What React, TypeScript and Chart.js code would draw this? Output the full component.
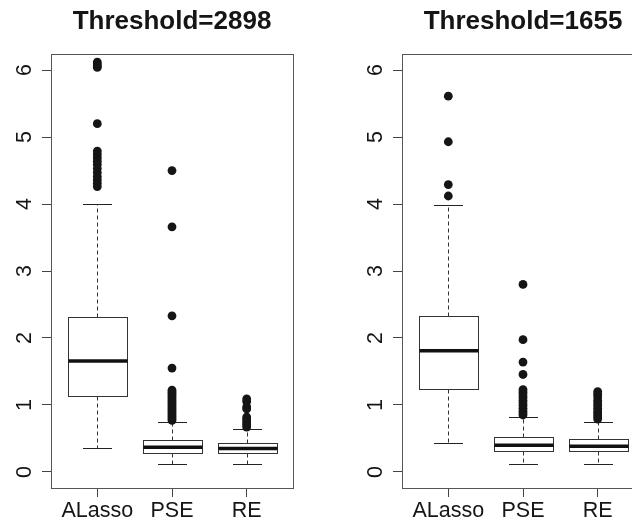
import React, { useEffect, useRef } from 'react';
import { Chart, registerables } from 'chart.js';

Chart.register(...registerables);

// ---------- data ----------
const categories = ['ALasso', 'PSE', 'RE'];
const yTicks = [0, 1, 2, 3, 4, 5, 6];

// Panel 1: Threshold=2898
const leftTitle = 'Threshold=2898';
const leftLow = [0.355, 0.12, 0.12];
const leftQ1 = [1.14, 0.285, 0.285];
const leftMedian = [1.655, 0.37, 0.35];
const leftQ3 = [2.31, 0.47, 0.425];
const leftHigh = [4.0, 0.745, 0.635];
const leftOutALasso = [6.12, 6.09, 6.06, 6.04, 5.2, 4.79, 4.74, 4.69, 4.64, 4.59, 4.53, 4.47, 4.41, 4.36, 4.31, 4.26];
const leftOutPSE = [4.5, 3.66, 2.33, 1.55, 1.22, 1.19, 1.16, 1.13, 1.1, 1.07, 1.04, 1.01, 0.98, 0.95, 0.92, 0.89, 0.86, 0.83, 0.8, 0.77];
const leftOutRE = [1.09, 1.05, 0.97, 0.94, 0.82, 0.79, 0.76, 0.73, 0.7, 0.67];

// Panel 2: Threshold=1655
const rightTitle = 'Threshold=1655';
const rightLow = [0.43, 0.125, 0.125];
const rightQ1 = [1.235, 0.31, 0.31];
const rightMedian = [1.81, 0.4, 0.385];
const rightQ3 = [2.33, 0.52, 0.485];
const rightHigh = [3.98, 0.82, 0.75];
const rightOutALasso = [5.61, 4.93, 4.29, 4.12];
const rightOutPSE = [2.8, 1.975, 1.64, 1.455, 1.23, 1.19, 1.15, 1.11, 1.07, 1.03, 0.99, 0.95, 0.91, 0.88, 0.85];
const rightOutRE = [1.2, 1.16, 1.12, 1.07, 1.03, 0.99, 0.95, 0.91, 0.88, 0.85, 0.82, 0.79];

const FONT = '"Liberation Sans", Arial, Helvetica, sans-serif';

type Stats = { low: number[]; q1: number[]; med: number[]; q3: number[]; high: number[] };

const boxPlugin = {
  id: 'rbox',
  beforeDatasetsDraw(chart: any, _args: any, opts: any) {
    const { ctx, scales } = chart;
    const x = scales.x;
    const y = scales.y;
    const s: Stats = opts.stats;
    if (!s) return;
    const py = (v: number) => Math.round(y.getPixelForValue(v)) + 0.5;
    ctx.save();
    for (let i = 0; i < s.q1.length; i++) {
      const c = Math.round(x.getPixelForValue(i + 1)) + 0.5;
      const hw = x.getPixelForValue(i + 1.4) - x.getPixelForValue(i + 1);
      const sw = x.getPixelForValue(i + 1.2) - x.getPixelForValue(i + 1);
      // whiskers (dashed)
      ctx.strokeStyle = '#333';
      ctx.lineWidth = 1;
      ctx.setLineDash([4, 3]);
      ctx.beginPath();
      ctx.moveTo(c, py(s.q3[i]));
      ctx.lineTo(c, py(s.high[i]));
      ctx.moveTo(c, py(s.q1[i]));
      ctx.lineTo(c, py(s.low[i]));
      ctx.stroke();
      ctx.setLineDash([]);
      // staples
      ctx.strokeStyle = '#222';
      ctx.beginPath();
      ctx.moveTo(Math.round(c - sw), py(s.high[i]));
      ctx.lineTo(Math.round(c + sw), py(s.high[i]));
      ctx.moveTo(Math.round(c - sw), py(s.low[i]));
      ctx.lineTo(Math.round(c + sw), py(s.low[i]));
      ctx.stroke();
      // box
      const l = Math.round(c - hw) + 0.5;
      const r = Math.round(c + hw) + 0.5;
      const t = py(s.q3[i]);
      const b = py(s.q1[i]);
      ctx.fillStyle = '#fff';
      ctx.fillRect(l, t, r - l, b - t);
      ctx.strokeStyle = '#333';
      ctx.strokeRect(l, t, r - l, b - t);
      // median
      ctx.strokeStyle = '#111';
      ctx.lineWidth = 3.5;
      ctx.beginPath();
      const m = y.getPixelForValue(s.med[i]);
      ctx.moveTo(l, m);
      ctx.lineTo(r, m);
      ctx.stroke();
      ctx.lineWidth = 1;
    }
    ctx.restore();
  },
};

const framePlugin = {
  id: 'rframe',
  afterDraw(chart: any) {
    const { ctx, chartArea } = chart;
    ctx.save();
    ctx.strokeStyle = '#555';
    ctx.lineWidth = 1;
    const l = Math.round(chartArea.left) + 0.5;
    const t = Math.round(chartArea.top) + 0.5;
    const r = Math.round(chartArea.right) + 0.5;
    const b = Math.round(chartArea.bottom) + 0.5;
    ctx.strokeRect(l, t, r - l, b - t);
    ctx.restore();
  },
};

function Panel(props: {
  left: number;
  title: string;
  stats: Stats;
  outliers: number[][];
}) {
  const ref = useRef<HTMLCanvasElement | null>(null);
  useEffect(() => {
    if (!ref.current) return;
    const points: { x: number; y: number }[] = [];
    props.outliers.forEach((arr, i) => arr.forEach((v) => points.push({ x: i + 1, y: v })));
    const chart = new Chart(ref.current, {
      type: 'scatter',
      data: {
        datasets: [
          {
            data: points,
            pointRadius: 4.4,
            pointBackgroundColor: '#151515',
            pointBorderWidth: 0,
            showLine: false,
          },
        ],
      },
      options: {
        responsive: false,
        animation: false,
        devicePixelRatio: 1,
        layout: { padding: { left: 0, right: 58, top: 0, bottom: 0 } },
        plugins: {
          legend: { display: false },
          tooltip: { enabled: false },
          title: {
            display: true,
            text: props.title,
            fullSize: false,
            color: '#151515',
            font: { family: FONT, size: 26, weight: 'bold', lineHeight: 1.2 },
            padding: { top: 6, bottom: 16.8 },
          },
          rbox: { stats: props.stats },
        } as any,
        scales: {
          x: {
            type: 'linear',
            min: 0.38,
            max: 3.62,
            afterBuildTicks: (s: any) => {
              s.ticks = categories.map((_, i) => ({ value: i + 1 }));
            },
            afterFit: (s: any) => {
              s.height = 35;
            },
            ticks: {
              autoSkip: false,
              maxRotation: 0,
              minRotation: 0,
              padding: 1.5,
              color: '#151515',
              font: { family: FONT, size: 21.5 },
              callback: (v: any) => categories[Math.round(Number(v)) - 1] ?? '',
            },
            grid: { drawOnChartArea: false, drawTicks: true, tickLength: 9, tickColor: '#444', color: '#444' },
            border: { display: false },
          },
          y: {
            type: 'linear',
            min: -0.24,
            max: 6.24,
            afterBuildTicks: (s: any) => {
              s.ticks = yTicks.map((v) => ({ value: v }));
            },
            afterFit: (s: any) => {
              s.width = 51;
            },
            ticks: {
              autoSkip: false,
              minRotation: 90,
              maxRotation: 90,
              crossAlign: 'center',
              padding: 11,
              color: '#151515',
              font: { family: FONT, size: 21.5 },
              callback: (v: any) => String(v),
            },
            grid: { drawOnChartArea: false, drawTicks: true, tickLength: 9, tickColor: '#444', color: '#444' },
            border: { display: false },
          },
        } as any,
      },
      plugins: [boxPlugin, framePlugin],
    });
    return () => chart.destroy();
  }, []);
  return (
    <canvas
      ref={ref}
      width={351}
      height={523}
      style={{ position: 'absolute', left: props.left, top: 0, width: 351, height: 523, display: 'block' }}
    />
  );
}

export default function App() {
  return (
    <div
      style={{
        position: 'absolute',
        left: 0,
        top: 0,
        width: 632,
        height: 523,
        overflow: 'hidden',
        background: '#fff',
      }}
    >
      <Panel
        left={0}
        title={leftTitle}
        stats={{ low: leftLow, q1: leftQ1, med: leftMedian, q3: leftQ3, high: leftHigh }}
        outliers={[leftOutALasso, leftOutPSE, leftOutRE]}
      />
      <Panel
        left={351}
        title={rightTitle}
        stats={{ low: rightLow, q1: rightQ1, med: rightMedian, q3: rightQ3, high: rightHigh }}
        outliers={[rightOutALasso, rightOutPSE, rightOutRE]}
      />
    </div>
  );
}
